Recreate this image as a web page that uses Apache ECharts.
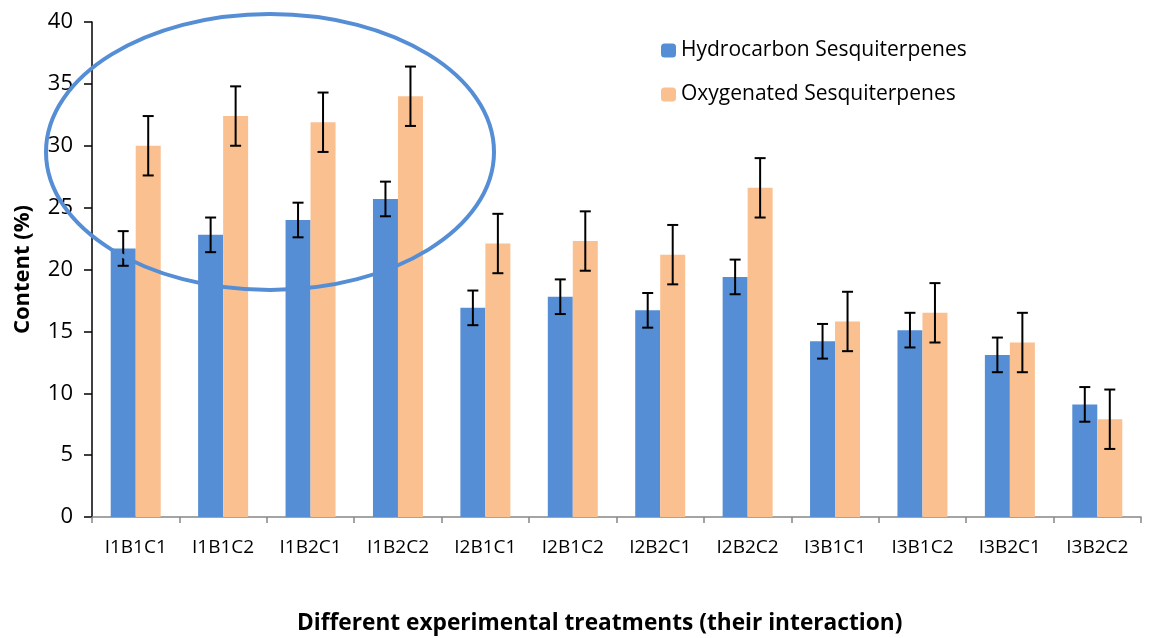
<!DOCTYPE html>
<html>
<head>
<meta charset="utf-8">
<script src="https://cdn.jsdelivr.net/npm/echarts@6/dist/echarts.min.js"></script>
<style>
  html, body { margin: 0; padding: 0; background: #fff; }
  #chart { width: 1152px; height: 638px; }
</style>
</head>
<body>
<div id="chart"></div>
<script>
// treatments on the x axis
var categories = ['I1B1C1', 'I1B1C2', 'I1B2C1', 'I1B2C2', 'I2B1C1', 'I2B1C2',
                  'I2B2C1', 'I2B2C2', 'I3B1C1', 'I3B1C2', 'I3B2C1', 'I3B2C2'];
// content (%)
var hydrocarbon = [21.7, 22.8, 24.0, 25.7, 16.9, 17.8, 16.7, 19.4, 14.2, 15.1, 13.1, 9.1];
var oxygenated  = [30.0, 32.4, 31.9, 34.0, 22.1, 22.3, 21.2, 26.6, 15.8, 16.5, 14.1, 7.9];
// error bar half-widths
var hydrocarbonErr = [1.4, 1.4, 1.4, 1.4, 1.4, 1.4, 1.4, 1.4, 1.4, 1.4, 1.4, 1.4];
var oxygenatedErr  = [2.4, 2.4, 2.4, 2.4, 2.4, 2.4, 2.4, 2.4, 2.4, 2.4, 2.4, 2.4];
var yTicks = [0, 5, 10, 15, 20, 25, 30, 35, 40];

var font = '"Open Sans", Lato, sans-serif';
var BAR_W = 25;

function errData(vals, errs) {
  var out = [];
  for (var i = 0; i < vals.length; i++) {
    out.push([i, vals[i] - errs[i], vals[i] + errs[i]]);
  }
  return out;
}

function errSeries(vals, errs, shift) {
  return {
    type: 'custom',
    z: 10,
    silent: true,
    data: errData(vals, errs),
    renderItem: function (params, api) {
      var lo = api.coord([api.value(0), api.value(1)]);
      var hi = api.coord([api.value(0), api.value(2)]);
      var x = lo[0] + shift;
      var cap = 5.5;
      var st = { stroke: '#000', lineWidth: 2 };
      return {
        type: 'group',
        children: [
          { type: 'line', shape: { x1: x, y1: lo[1], x2: x, y2: hi[1] }, style: st },
          { type: 'line', shape: { x1: x - cap, y1: lo[1], x2: x + cap, y2: lo[1] }, style: st },
          { type: 'line', shape: { x1: x - cap, y1: hi[1], x2: x + cap, y2: hi[1] }, style: st }
        ]
      };
    }
  };
}

var chart = echarts.init(document.getElementById('chart'));
chart.setOption({
  animation: false,
  backgroundColor: '#fff',
  grid: { left: 92, right: 11, top: 22, bottom: 121 },
  legend: {
    orient: 'vertical',
    left: 656,
    top: 35,
    itemWidth: 15,
    itemHeight: 14,
    itemGap: 23,
    textStyle: { fontFamily: font, fontSize: 21, color: '#000' },
    data: ['Hydrocarbon Sesquiterpenes', 'Oxygenated Sesquiterpenes']
  },
  title: {
    text: 'Different experimental treatments (their interaction)',
    left: 292,
    top: 607,
    textStyle: { fontFamily: font, fontSize: 22.7, fontWeight: 'bold', color: '#000' }
  },
  xAxis: {
    type: 'category',
    data: categories,
    axisLine: { lineStyle: { color: '#868686', width: 1.5 } },
    axisTick: { show: true, length: 6, lineStyle: { color: '#868686', width: 1.5 } },
    axisLabel: { fontFamily: font, fontSize: 19, color: '#000', margin: 21, interval: 0 }
  },
  yAxis: {
    type: 'value',
    min: yTicks[0],
    max: yTicks[yTicks.length - 1],
    interval: 5,
    name: 'Content (%)',
    nameLocation: 'middle',
    nameGap: 58,
    nameRotate: 90,
    nameTextStyle: { fontFamily: font, fontSize: 22, fontWeight: 'bold', color: '#000' },
    axisLine: { show: true, lineStyle: { color: '#000', width: 1.5 } },
    axisTick: { show: true, length: 8, lineStyle: { color: '#000', width: 1.5 } },
    axisLabel: { fontFamily: font, fontSize: 22, color: '#000', margin: 19 },
    splitLine: { show: false }
  },
  series: [
    {
      name: 'Hydrocarbon Sesquiterpenes',
      type: 'bar',
      barWidth: BAR_W,
      barGap: 0,
      itemStyle: { color: '#558ed5' },
      data: hydrocarbon
    },
    {
      name: 'Oxygenated Sesquiterpenes',
      type: 'bar',
      barWidth: BAR_W,
      barGap: 0,
      itemStyle: { color: '#fac090' },
      data: oxygenated
    },
    errSeries(hydrocarbon, hydrocarbonErr, -BAR_W / 2),
    errSeries(oxygenated, oxygenatedErr, BAR_W / 2)
  ],
  graphic: [
    {
      type: 'ellipse',
      z: 20,
      shape: { cx: 270, cy: 152, rx: 224, ry: 138 },
      style: { fill: null, stroke: '#558ed5', lineWidth: 4 }
    }
  ]
});
</script>
</body>
</html>
